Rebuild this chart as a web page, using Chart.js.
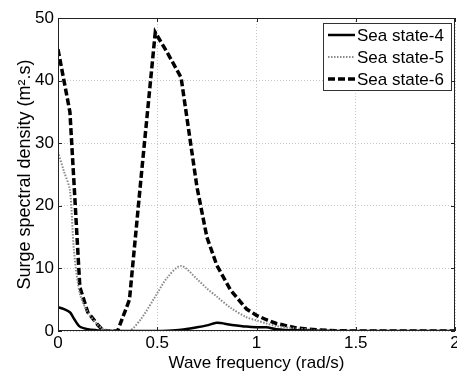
<!DOCTYPE html>
<html>
<head>
<meta charset="utf-8">
<script src="https://cdn.jsdelivr.net/npm/chart.js@4.4.1/dist/chart.umd.min.js"></script>
<style>
  html, body { margin: 0; padding: 0; background: #fff; }
  #wrap { width: 457px; height: 374px; }
</style>
</head>
<body>
<div id="wrap"><canvas id="surge"></canvas></div>
<script>
// wave frequency (rad/s), shared by all series
var freq   = [0, 0.03, 0.06, 0.08, 0.11, 0.15, 0.2, 0.23, 0.3, 0.36, 0.42, 0.49, 0.55, 0.62, 0.7, 0.75, 0.8, 0.87, 0.95, 1.0, 1.05, 1.1, 1.2, 1.3, 1.4, 1.5, 2.0];
// surge spectral density (m^2.s)
var state4 = [3.8, 3.5, 3.0, 2.0, 0.7, 0.3, 0.1, 0, 0, 0, 0, 0, 0.05, 0.2, 0.6, 0.9, 1.3, 1.0, 0.7, 0.6, 0.6, 0.3, 0.1, 0.05, 0, 0, 0];
var state5 = [28.6, 25.5, 22.5, 13, 6, 3, 1, 0.3, 0, 0, 2, 5.5, 8.5, 10.4, 8.3, 6.8, 5.5, 3.7, 2.2, 1.7, 1.2, 0.8, 0.4, 0.15, 0.05, 0, 0];
var state6 = [45, 40, 35, 24, 7, 3, 1, 0, 0, 5, 25, 47.7, 44.5, 40.5, 23, 15, 10.5, 6.5, 3.5, 2.5, 1.8, 1.2, 0.5, 0.2, 0.05, 0, 0];
var labels = ["Sea state-4", "Sea state-5", "Sea state-6"];
var xTicks = [0, 0.5, 1, 1.5, 2];

function pts(vals) {
  return freq.map(function (f, i) { return { x: f, y: vals[i] }; });
}

var FONT = "'Liberation Sans', Arial, sans-serif";

// frame, inside tick marks and legend box
var frame = {
  id: "frame",
  afterDraw: function (chart) {
    var c = chart.ctx, a = chart.chartArea;
    var xs = chart.scales.x, ys = chart.scales.y;
    c.save();
    c.strokeStyle = "#222";
    c.lineWidth = 1;
    c.strokeRect(a.left + 0.5, a.top + 0.5, a.right - a.left - 1, a.bottom - a.top - 1);
    c.beginPath();
    xTicks.forEach(function (t) {
      var px = Math.round(xs.getPixelForValue(t)) + 0.5;
      c.moveTo(px, a.bottom); c.lineTo(px, a.bottom - 4);
      c.moveTo(px, a.top); c.lineTo(px, a.top + 4);
    });
    for (var v = 0; v <= 50; v += 10) {
      var py = Math.round(ys.getPixelForValue(v)) + 0.5;
      c.moveTo(a.left, py); c.lineTo(a.left + 4, py);
      c.moveTo(a.right, py); c.lineTo(a.right - 4, py);
    }
    c.stroke();

    // legend
    var bx = 323, by = 23, bw = 128, bh = 67;
    c.fillStyle = "#fff";
    c.fillRect(bx, by, bw, bh);
    c.strokeStyle = "#333";
    c.strokeRect(bx + 0.5, by + 0.5, bw, bh);
    c.font = "17px " + FONT;
    c.textBaseline = "middle";
    chart.data.datasets.forEach(function (ds, i) {
      var y = by + 12 + i * 22;
      c.strokeStyle = ds.borderColor;
      c.lineWidth = ds.borderWidth;
      c.setLineDash(ds.borderDash || []);
      c.beginPath();
      c.moveTo(bx + 5, y); c.lineTo(bx + 32, y);
      c.stroke();
      c.setLineDash([]);
      c.fillStyle = "#000";
      c.fillText(ds.label, bx + 34, y + 1);
    });
    c.restore();
  }
};

new Chart(document.getElementById("surge"), {
  type: "line",
  data: {
    datasets: [
      { label: labels[0], data: pts(state4), borderColor: "#000", borderWidth: 2.5, pointRadius: 0, tension: 0.3 },
      { label: labels[1], data: pts(state5), borderColor: "#8a8a8a", borderWidth: 2, borderDash: [1.5, 1.5], pointRadius: 0, tension: 0.3 },
      { label: labels[2], data: pts(state6), borderColor: "#000", borderWidth: 3.5, borderDash: [7, 3], pointRadius: 0, tension: 0 }
    ]
  },
  options: {
    responsive: true,
    maintainAspectRatio: false,
    animation: false,
    layout: { padding: { top: 18, right: 2, left: 0, bottom: 0 } },
    plugins: { legend: { display: false }, tooltip: { enabled: false } },
    scales: {
      x: {
        type: "linear",
        min: 0, max: 2,
        afterBuildTicks: function (s) { s.ticks = xTicks.map(function (v) { return { value: v }; }); },
        afterFit: function (s) { s.paddingLeft = 0; s.paddingRight = 0; s.height = 43; },
        grid: { color: "#c8c8c8", drawTicks: false },
        border: { display: false, dash: [1, 2] },
        ticks: { color: "#000", font: { family: FONT, size: 17 }, padding: 2, maxRotation: 0,
                 callback: function (v) { return String(v); } },
        title: { display: true, text: "Wave frequency (rad/s)", color: "#000",
                 font: { family: FONT, size: 17 }, padding: { top: 0, bottom: 0 } }
      },
      y: {
        min: 0, max: 50,
        ticks: { stepSize: 10, color: "#000", font: { family: FONT, size: 17 }, padding: 4 },
        afterFit: function (s) { s.width = 58; s.paddingTop = 0; s.paddingBottom = 0; },
        grid: { color: "#c8c8c8", drawTicks: false },
        border: { display: false, dash: [1, 2] },
        title: { display: true, text: "Surge spectral density (m\u00b2.s)", color: "#000",
                 font: { family: FONT, size: 18 }, padding: { top: 14, bottom: 0 } }
      }
    }
  },
  plugins: [frame]
});
</script>
</body>
</html>
